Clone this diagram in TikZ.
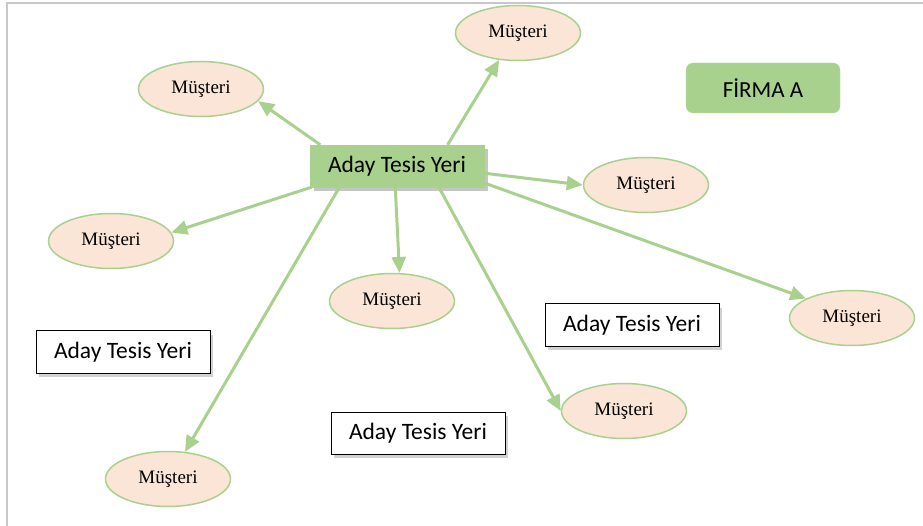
\documentclass[tikz,border=0pt]{standalone}
\usepackage{fontspec}
\setmainfont{Liberation Serif}
\newfontfamily\calib{Carlito}
\usetikzlibrary{shapes.geometric,shadows,calc,arrows.meta}
\definecolor{grn}{HTML}{A9D18E}
\definecolor{peach}{HTML}{FBE5D6}
\definecolor{frame}{HTML}{C8C8C8}
\begin{document}
\begin{tikzpicture}[x=1pt,y=-1pt,
  cust/.style={ellipse,draw=grn,line width=1.5pt,fill=peach,minimum width=125pt,minimum height=55pt,inner sep=0pt,font=\fontsize{19}{22}\selectfont},
  site/.style={rectangle,draw=black,line width=1pt,fill=white,minimum width=174pt,minimum height=42pt,inner sep=0pt,font=\calib\fontsize{23.5}{26}\selectfont,
    drop shadow={shadow xshift=3pt,shadow yshift=-4pt,opacity=0.35}},
  mainsite/.style={rectangle,draw=grn,fill=grn,minimum width=174pt,minimum height=42pt,inner sep=0pt,font=\calib\fontsize{23.5}{26}\selectfont,
    drop shadow={shadow xshift=4pt,shadow yshift=-4pt,opacity=0.45}},
  firm/.style={rectangle,rounded corners=7pt,draw=grn!80,fill=grn,minimum width=154pt,minimum height=50pt,inner sep=0pt,font=\calib\fontsize{23}{26}\selectfont},
  link/.style={draw=grn,line width=3pt,-{Triangle[length=16pt,width=14pt]},shorten >=0pt}
]
\useasboundingbox (0,0) rectangle (923,526);
\fill[white] (0,0) rectangle (923,526);
\draw[frame,line width=2pt] (7,526) -- (7,3) -- (923,3);

\node[mainsite] (c) at (397,166) {Aday Tesis Yeri};
\node[firm] (f) at (763,88) {F\.IRMA A};

\node[cust] (e1) at (518,33) {Müşteri};
\node[cust] (e2) at (201,89) {Müşteri};
\node[cust] (e3) at (646,185) {Müşteri};
\node[cust] (e4) at (111,241) {Müşteri};
\node[cust] (e5) at (392,301) {Müşteri};
\node[cust] (e6) at (852,318) {Müşteri};
\node[cust] (e7) at (624,411) {Müşteri};
\node[cust] (e8) at (168,479) {Müşteri};

\node[site] (s1) at (123,352) {Aday Tesis Yeri};
\node[site] (s2) at (632,325) {Aday Tesis Yeri};
\node[site] (s3) at (418,433) {Aday Tesis Yeri};

\draw[link] ($(c.north west)!0.79!(c.north east)$) -- (e1.235);
\draw[link] ($(c.north west)!0.06!(c.north east)$) -- (e2.348);
\draw[link] ($(c.north east)!0.67!(c.south east)$) -- (e3.west);
\draw[link] ($(c.south west)!0.01!(c.south east)$) -- (e4.8);
\draw[link] ($(c.south west)!0.49!(c.south east)$) -- (e5.75);
\draw[link] ($(c.north east)!0.9!(c.south east)$) -- (e6.157);
\draw[link] ($(c.south west)!0.74!(c.south east)$) -- (e7.west);
\draw[link] ($(c.south west)!0.17!(c.south east)$) -- (e8.58);
\end{tikzpicture}
\end{document}
